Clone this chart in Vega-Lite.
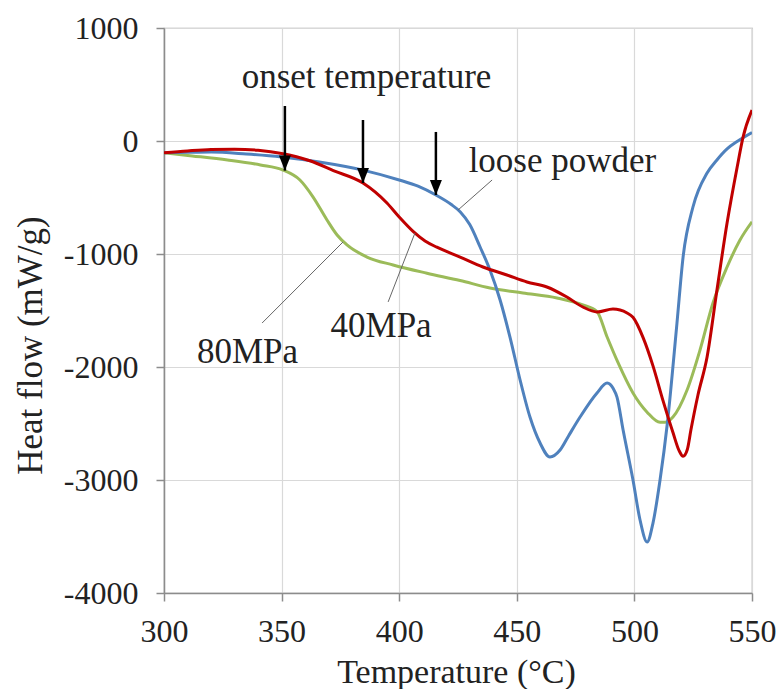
{
  "$schema": "https://vega.github.io/schema/vega-lite/v6.json",
  "width": 588,
  "height": 565,
  "autosize": {"type": "none"},
  "padding": {"left": 164, "top": 28, "right": 26, "bottom": 96},
  "background": "white",
  "config": {
    "font": "Liberation Serif",
    "view": {"stroke": "#a6a6a6", "strokeWidth": 1.2},
    "axis": {
      "labelFont": "Liberation Serif",
      "titleFont": "Liberation Serif",
      "labelFontSize": 32,
      "titleFontSize": 35,
      "labelColor": "#222",
      "titleColor": "#222",
      "titleFontWeight": "normal",
      "gridColor": "#d9d9d9",
      "gridWidth": 1.2,
      "domainColor": "#8c8c8c",
      "domainWidth": 1.5,
      "tickColor": "#8c8c8c",
      "tickWidth": 1.5,
      "tickSize": 8
    }
  },
  "datasets": {
    "curves": [
      {"s": "80MPa", "T": 300, "HF": -105}, {"s": "80MPa", "T": 312, "HF": -132}, {"s": "80MPa", "T": 327, "HF": -168}, {"s": "80MPa", "T": 341, "HF": -212}, {"s": "80MPa", "T": 350.6, "HF": -257}, {"s": "80MPa", "T": 357.8, "HF": -345}, {"s": "80MPa", "T": 363.4, "HF": -496}, {"s": "80MPa", "T": 369.3, "HF": -699}, {"s": "80MPa", "T": 373.6, "HF": -832}, {"s": "80MPa", "T": 377.8, "HF": -920}, {"s": "80MPa", "T": 386.3, "HF": -1027}, {"s": "80MPa", "T": 397.4, "HF": -1097}, {"s": "80MPa", "T": 411.8, "HF": -1170}, {"s": "80MPa", "T": 425.9, "HF": -1235}, {"s": "80MPa", "T": 438.6, "HF": -1301}, {"s": "80MPa", "T": 452.6, "HF": -1345}, {"s": "80MPa", "T": 467.1, "HF": -1389}, {"s": "80MPa", "T": 478.1, "HF": -1451}, {"s": "80MPa", "T": 484.1, "HF": -1510}, {"s": "80MPa", "T": 488.4, "HF": -1735}, {"s": "80MPa", "T": 493, "HF": -1960}, {"s": "80MPa", "T": 499.4, "HF": -2230}, {"s": "80MPa", "T": 505.4, "HF": -2400}, {"s": "80MPa", "T": 510.9, "HF": -2490}, {"s": "80MPa", "T": 513, "HF": -2490}, {"s": "80MPa", "T": 516.4, "HF": -2443}, {"s": "80MPa", "T": 522.4, "HF": -2204}, {"s": "80MPa", "T": 527.9, "HF": -1850}, {"s": "80MPa", "T": 533.4, "HF": -1434}, {"s": "80MPa", "T": 539.4, "HF": -1115}, {"s": "80MPa", "T": 544.9, "HF": -876}, {"s": "80MPa", "T": 550, "HF": -715},

      {"s": "loose powder", "T": 300, "HF": -105}, {"s": "loose powder", "T": 310, "HF": -100}, {"s": "loose powder", "T": 320, "HF": -97}, {"s": "loose powder", "T": 335, "HF": -115}, {"s": "loose powder", "T": 350, "HF": -142}, {"s": "loose powder", "T": 366, "HF": -186}, {"s": "loose powder", "T": 385, "HF": -260}, {"s": "loose powder", "T": 400, "HF": -345}, {"s": "loose powder", "T": 408, "HF": -400}, {"s": "loose powder", "T": 415.6, "HF": -478}, {"s": "loose powder", "T": 422, "HF": -560}, {"s": "loose powder", "T": 426, "HF": -628}, {"s": "loose powder", "T": 430, "HF": -740}, {"s": "loose powder", "T": 434.4, "HF": -938}, {"s": "loose powder", "T": 438.6, "HF": -1142}, {"s": "loose powder", "T": 442.9, "HF": -1407}, {"s": "loose powder", "T": 447.1, "HF": -1735}, {"s": "loose powder", "T": 451.4, "HF": -2115}, {"s": "loose powder", "T": 455.6, "HF": -2443}, {"s": "loose powder", "T": 459.9, "HF": -2673}, {"s": "loose powder", "T": 464.1, "HF": -2797}, {"s": "loose powder", "T": 468.4, "HF": -2735}, {"s": "loose powder", "T": 472, "HF": -2610}, {"s": "loose powder", "T": 476.9, "HF": -2443}, {"s": "loose powder", "T": 484.1, "HF": -2230}, {"s": "loose powder", "T": 488.4, "HF": -2142}, {"s": "loose powder", "T": 491, "HF": -2190}, {"s": "loose powder", "T": 492.6, "HF": -2266}, {"s": "loose powder", "T": 495.2, "HF": -2558}, {"s": "loose powder", "T": 499.4, "HF": -3000}, {"s": "loose powder", "T": 502.4, "HF": -3354}, {"s": "loose powder", "T": 505.4, "HF": -3549}, {"s": "loose powder", "T": 507.9, "HF": -3381}, {"s": "loose powder", "T": 510.9, "HF": -3000}, {"s": "loose powder", "T": 514, "HF": -2500}, {"s": "loose powder", "T": 518.1, "HF": -1611}, {"s": "loose powder", "T": 520.7, "HF": -1027}, {"s": "loose powder", "T": 524.9, "HF": -584}, {"s": "loose powder", "T": 530.9, "HF": -283}, {"s": "loose powder", "T": 535, "HF": -170}, {"s": "loose powder", "T": 539.4, "HF": -70}, {"s": "loose powder", "T": 544, "HF": 0}, {"s": "loose powder", "T": 550, "HF": 75},

      {"s": "40MPa", "T": 300, "HF": -105}, {"s": "40MPa", "T": 310, "HF": -88}, {"s": "40MPa", "T": 320, "HF": -75}, {"s": "40MPa", "T": 330, "HF": -72}, {"s": "40MPa", "T": 340, "HF": -82}, {"s": "40MPa", "T": 350, "HF": -110}, {"s": "40MPa", "T": 362, "HF": -175}, {"s": "40MPa", "T": 372, "HF": -262}, {"s": "40MPa", "T": 384.6, "HF": -372}, {"s": "40MPa", "T": 394.8, "HF": -549}, {"s": "40MPa", "T": 400, "HF": -673}, {"s": "40MPa", "T": 405.9, "HF": -800}, {"s": "40MPa", "T": 411, "HF": -885}, {"s": "40MPa", "T": 416, "HF": -940}, {"s": "40MPa", "T": 425.9, "HF": -1027}, {"s": "40MPa", "T": 435.6, "HF": -1115}, {"s": "40MPa", "T": 445.8, "HF": -1186}, {"s": "40MPa", "T": 454.3, "HF": -1248}, {"s": "40MPa", "T": 462.8, "HF": -1292}, {"s": "40MPa", "T": 471.3, "HF": -1381}, {"s": "40MPa", "T": 478.1, "HF": -1469}, {"s": "40MPa", "T": 484.1, "HF": -1513}, {"s": "40MPa", "T": 490.9, "HF": -1487}, {"s": "40MPa", "T": 496.9, "HF": -1522}, {"s": "40MPa", "T": 499.4, "HF": -1560}, {"s": "40MPa", "T": 503.7, "HF": -1740}, {"s": "40MPa", "T": 507.9, "HF": -1990}, {"s": "40MPa", "T": 512.2, "HF": -2300}, {"s": "40MPa", "T": 516.4, "HF": -2580}, {"s": "40MPa", "T": 519, "HF": -2740}, {"s": "40MPa", "T": 520.7, "HF": -2790}, {"s": "40MPa", "T": 522.5, "HF": -2730}, {"s": "40MPa", "T": 524, "HF": -2560}, {"s": "40MPa", "T": 527, "HF": -2250}, {"s": "40MPa", "T": 530.9, "HF": -1912}, {"s": "40MPa", "T": 535.1, "HF": -1319}, {"s": "40MPa", "T": 539.4, "HF": -726}, {"s": "40MPa", "T": 543.7, "HF": -230}, {"s": "40MPa", "T": 546.2, "HF": 35}, {"s": "40MPa", "T": 550, "HF": 274}
    ],
    "arrows": [
      {"T": 351.4, "HF": 310, "HF2": -262},
      {"T": 384.6, "HF": 186, "HF2": -372},
      {"T": 415.6, "HF": 80, "HF2": -478}
    ],
    "leaders": [
      {"T": 439.5, "HF": -345, "T2": 425, "HF2": -611},
      {"T": 395.3, "HF": -1424, "T2": 406.7, "HF2": -814},
      {"T": 341.7, "HF": -1611, "T2": 376.1, "HF2": -894}
    ],
    "labels": [
      {"T": 386.1, "HF": 469, "label": "onset temperature"},
      {"T": 469.4, "HF": -274, "label": "loose powder"},
      {"T": 392.3, "HF": -1735, "label": "40MPa"},
      {"T": 335.5, "HF": -1965, "label": "80MPa"}
    ]
  },
  "layer": [
    {
      "data": {"name": "curves"},
      "mark": {"type": "line", "interpolate": "monotone", "strokeWidth": 3, "clip": true},
      "encoding": {
        "x": {
          "field": "T", "type": "quantitative",
          "title": "Temperature (°C)",
          "scale": {"domain": [300, 550], "nice": false, "zero": false},
          "axis": {
            "values": [300, 350, 400, 450, 500, 550],
            "labelBaseline": "alphabetic",
            "labelPadding": 40,
            "labelFlush": false,
            "titleFontSize": 34,
            "titleBaseline": "alphabetic",
            "titleX": 292,
            "titleY": 89
          }
        },
        "y": {
          "field": "HF", "type": "quantitative",
          "title": "Heat flow (mW/g)",
          "scale": {"domain": [-4000, 1000], "nice": false, "zero": false},
          "axis": {
            "values": [-4000, -3000, -2000, -1000, 0, 1000],
            "labelExpr": "datum.value < 0 ? '-' + abs(datum.value) : '' + datum.value",
            "labelPadding": 18,
            "labelFlush": false,
            "titleAngle": -90,
            "titleAlign": "center",
            "titleBaseline": "middle",
            "titleX": -134,
            "titleY": 317
          }
        },
        "color": {
          "field": "s", "type": "nominal",
          "scale": {"domain": ["80MPa", "loose powder", "40MPa"], "range": ["#9bbb59", "#4f81bd", "#c00000"]},
          "legend": null
        },
        "order": {"field": "T", "type": "quantitative"}
      }
    },
    {
      "data": {"name": "leaders"},
      "mark": {"type": "rule", "color": "#666666", "strokeWidth": 1},
      "encoding": {
        "x": {"field": "T", "type": "quantitative", "title": "Temperature (°C)"},
        "y": {"field": "HF", "type": "quantitative", "title": "Heat flow (mW/g)"},
        "x2": {"field": "T2"},
        "y2": {"field": "HF2"}
      }
    },
    {
      "data": {"name": "arrows"},
      "mark": {"type": "rule", "color": "black", "strokeWidth": 2.5},
      "encoding": {
        "x": {"field": "T", "type": "quantitative", "title": "Temperature (°C)"},
        "y": {"field": "HF", "type": "quantitative", "title": "Heat flow (mW/g)"},
        "y2": {"field": "HF2"}
      }
    },
    {
      "data": {"name": "arrows"},
      "mark": {"type": "point", "filled": true, "color": "black", "opacity": 1, "shape": "M-0.8,-2 L0.8,-2 L0,0 Z", "size": 225},
      "encoding": {
        "x": {"field": "T", "type": "quantitative", "title": "Temperature (°C)"},
        "y": {"field": "HF2", "type": "quantitative", "title": "Heat flow (mW/g)"}
      }
    },
    {
      "data": {"name": "labels"},
      "mark": {"type": "text", "fontSize": 35, "font": "Liberation Serif", "align": "center", "baseline": "alphabetic", "color": "#222"},
      "encoding": {
        "x": {"field": "T", "type": "quantitative", "title": "Temperature (°C)"},
        "y": {"field": "HF", "type": "quantitative", "title": "Heat flow (mW/g)"},
        "text": {"field": "label"}
      }
    }
  ]
}
